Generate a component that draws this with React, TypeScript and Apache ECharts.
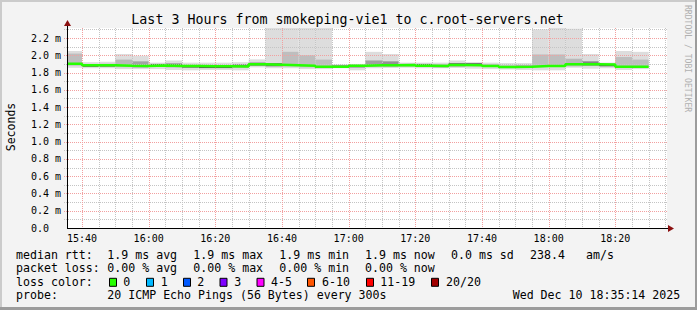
import React, { useEffect, useRef } from 'react';
import * as echarts from 'echarts';

// ---- data ----
const titleText = 'Last 3 Hours from smokeping-vie1 to c.root-servers.net';
const axStart = '15:35:30';
const axEnd = '18:35:30';
const timeLabels = ['15:40', '16:00', '16:20', '16:40', '17:00', '17:20', '17:40', '18:00', '18:20'];
const valueLabels = [0, 0.2, 0.4, 0.6, 0.8, 1.0, 1.2, 1.4, 1.6, 1.8, 2.0, 2.2];
const stepEnds = ['15:40', '15:45', '15:50', '15:55', '16:00', '16:05', '16:10', '16:15', '16:20', '16:25', '16:30', '16:35',
  '16:40', '16:45', '16:50', '16:55', '17:00', '17:05', '17:10', '17:15', '17:20', '17:25', '17:30', '17:35',
  '17:40', '17:45', '17:50', '17:55', '18:00', '18:05', '18:10', '18:15', '18:20', '18:25', '18:30'];
const medianRtt = [1.902, 1.884, 1.886, 1.878, 1.876, 1.882, 1.876, 1.876, 1.872, 1.872,
  1.87, 1.895, 1.89, 1.884, 1.878, 1.868, 1.868, 1.878, 1.884, 1.884,
  1.888, 1.878, 1.875, 1.888, 1.886, 1.875, 1.865, 1.868, 1.875, 1.875,
  1.895, 1.895, 1.893, 1.866, 1.866];
const smokeMax = [2.05, 1.92, 1.925, 2.015, 1.995, 1.915, 1.94, 1.915, 1.915, 1.915,
  1.92, 1.953, 2.52, 2.48, 2.55, 2.44, 1.895, 1.9, 2.04, 2.015,
  1.915, 1.915, 1.915, 1.94, 1.92, 1.915, 1.91, 1.91, 2.3, 2.46,
  2.31, 2.015, 1.915, 2.05, 2.04];
const smokeMin = [1.855, 1.85, 1.85, 1.84, 1.84, 1.84, 1.83, 1.826, 1.83, 1.83,
  1.826, 1.86, 1.85, 1.85, 1.84, 1.84, 1.85, 1.826, 1.85, 1.853,
  1.856, 1.85, 1.85, 1.853, 1.845, 1.84, 1.835, 1.83, 1.826, 1.826,
  1.856, 1.845, 1.85, 1.83, 1.84];
const innerLo = [1.88, 1.866, 1.868, 1.862, 1.858, 1.868, 1.862, 1.856, 1.852, 1.852,
  1.86, 1.88, 1.872, 1.87, 1.86, 1.856, 1.86, 1.86, 1.87, 1.87,
  1.874, 1.868, 1.862, 1.872, 1.875, 1.866, 1.856, 1.856, 1.866, 1.866,
  1.872, 1.88, 1.872, 1.852, 1.858];
const innerHi = [2.02, 1.895, 1.9, 1.95, 1.93, 1.9, 1.905, 1.885, 1.868, 1.868,
  1.895, 1.915, 1.91, 2.04, 2.0, 1.95, 1.882, 1.88, 1.94, 1.93,
  1.9, 1.9, 1.89, 1.91, 1.91, 1.89, 1.878, 1.88, 2.01, 2.01,
  1.96, 1.93, 1.9, 1.98, 1.95];
const rttStats = ['1.9 ms avg', '1.9 ms max', '1.9 ms min', '1.9 ms now', '0.0 ms sd', '238.4', 'am/s'];
const lossStats = ['0.00 % avg', '0.00 % max', '0.00 % min', '0.00 % now'];
const lossLabels = ['0', '1', '2', '3', '4-5', '6-10', '11-19', '20/20'];
const lossColors = ['#26ff00', '#00b8ff', '#0059ff', '#7e00ff', '#ff00ff', '#ff5500', '#ff0000', '#a10000'];
const probeText = '20 ICMP Echo Pings (56 Bytes) every 300s';
const dateText = 'Wed Dec 10 18:35:14 2025';
const yMaxValue = 2.316;

// ---- layout ----
const G_LEFT = 67, G_TOP = 28, G_W = 600, G_H = 200;
const MONO = '"DejaVu Sans Mono", "Liberation Mono", monospace';
const rttX = [107.3, 193.3, 279.3, 365, 451, 530, 586];
const lossX = [107.3, 193.3, 279.3, 365];
const swatchX = [109, 146, 183, 219.5, 256.5, 307, 366, 431];
const swatchLabelX = [123.3, 160.7, 197.3, 234.3, 271, 322, 380.3, 446];
const rowY = [254.7, 268, 282.3, 295.3];

const toMin = (s: string) => {
  const p = s.split(':').map(Number);
  return p[0] * 60 + p[1] + (p[2] || 0) / 60;
};
const X_MIN = toMin(axStart);
const X_MAX = toMin(axEnd);

function innerColor(w: number) {
  const g = Math.round(Math.min(190, 62 + w * 1400));
  return `rgb(${g},${g},${g})`;
}

export default function App() {
  const ref = useRef<HTMLDivElement>(null);
  useEffect(() => {
    document.body.style.margin = '0';
    if (!ref.current) return;
    const chart = echarts.init(ref.current, null, { renderer: 'svg' });

    const smokeData = stepEnds.map((t, i) => [toMin(t), smokeMin[i], smokeMax[i], innerLo[i], innerHi[i]]);
    const medianData: number[][] = [[X_MIN, medianRtt[0]]];
    stepEnds.forEach((t, i) => medianData.push([toMin(t), medianRtt[i]]));

    const graphic: any[] = [];
    // borders
    graphic.push({ type: 'rect', shape: { x: 0, y: 0, width: 697, height: 2 }, style: { fill: '#cbcbcb' }, silent: true });
    graphic.push({ type: 'rect', shape: { x: 0, y: 0, width: 2, height: 310 }, style: { fill: '#cbcbcb' }, silent: true });
    graphic.push({ type: 'rect', shape: { x: 0, y: 307, width: 697, height: 3 }, style: { fill: '#9c9c9c' }, silent: true });
    graphic.push({ type: 'rect', shape: { x: 695, y: 0, width: 2, height: 310 }, style: { fill: '#9c9c9c' }, silent: true });
    // title
    graphic.push({ type: 'text', x: 347.5, y: 19, style: { text: titleText, font: `13.3px ${MONO}`, fill: '#000', align: 'center', verticalAlign: 'middle' } });
    // watermark
    graphic.push({ type: 'text', x: 687.5, y: 5, rotation: -Math.PI / 2, style: { text: 'RRDTOOL / TOBI OETIKER', font: `8.1px ${MONO}`, fill: '#b0b0b0', align: 'left', verticalAlign: 'middle' } });
    // y name
    graphic.push({ type: 'text', x: 10.5, y: 127, rotation: Math.PI / 2, style: { text: 'Seconds', font: `11.5px ${MONO}`, fill: '#000', align: 'center', verticalAlign: 'middle' } });
    // axes lines + arrows
    graphic.push({ type: 'line', z: 50, shape: { x1: G_LEFT + 0.5, y1: G_TOP + G_H + 0.5, x2: G_LEFT + 0.5, y2: G_TOP - 4 }, style: { stroke: '#000', lineWidth: 1 } });
    graphic.push({ type: 'line', z: 50, shape: { x1: G_LEFT, y1: G_TOP + G_H + 0.5, x2: G_LEFT + G_W + 2, y2: G_TOP + G_H + 0.5 }, style: { stroke: '#000', lineWidth: 1 } });
    graphic.push({ type: 'polygon', z: 51, shape: { points: [[G_LEFT - 3, G_TOP - 2], [G_LEFT + 4, G_TOP - 2], [G_LEFT + 0.5, G_TOP - 8]] }, style: { fill: '#8b1010' } });
    graphic.push({ type: 'polygon', z: 51, shape: { points: [[G_LEFT + G_W + 1, G_TOP + G_H - 3], [G_LEFT + G_W + 1, G_TOP + G_H + 4], [G_LEFT + G_W + 7, G_TOP + G_H + 0.5]] }, style: { fill: '#8b1010' } });
    // legend rows
    const txt = (x: number, y: number, t: string) => ({ type: 'text', x, y, style: { text: t, font: `11.6px ${MONO}`, fill: '#000', align: 'left', verticalAlign: 'middle' } });
    graphic.push(txt(16, rowY[0], 'median rtt:'));
    rttStats.forEach((s, i) => graphic.push(txt(rttX[i], rowY[0], s)));
    graphic.push(txt(16, rowY[1], 'packet loss:'));
    lossStats.forEach((s, i) => graphic.push(txt(lossX[i], rowY[1], s)));
    graphic.push(txt(16, rowY[2], 'loss color:'));
    lossLabels.forEach((s, i) => {
      graphic.push({ type: 'rect', shape: { x: swatchX[i] + 0.5, y: rowY[2] - 4, width: 7, height: 8 }, style: { fill: lossColors[i], stroke: '#000', lineWidth: 1 } });
      graphic.push(txt(swatchLabelX[i], rowY[2], s));
    });
    graphic.push(txt(16, rowY[3], 'probe:'));
    graphic.push(txt(107.3, rowY[3], probeText));
    graphic.push(txt(512.7, rowY[3], dateText));

    const option: any = {
      animation: false,
      backgroundColor: '#f3f3f3',
      grid: { left: G_LEFT, top: G_TOP, width: G_W, height: G_H, show: true, backgroundColor: '#ffffff', borderWidth: 0 },
      xAxis: {
        type: 'value', min: X_MIN, max: X_MAX,
        axisLine: { show: false }, axisTick: { show: false }, splitLine: { show: false },
        axisLabel: {
          customValues: timeLabels.map(toMin),
          margin: 5, fontFamily: MONO, fontSize: 10, color: '#000',
          formatter: (v: number) => {
            const h = Math.floor(v / 60 + 1e-6), m = Math.round(v - h * 60);
            return `${h}:${String(m).padStart(2, '0')}`;
          },
        },
      },
      yAxis: {
        type: 'value', min: 0, max: yMaxValue,
        axisLine: { show: false }, axisTick: { show: false }, splitLine: { show: false },
        axisLabel: {
          customValues: valueLabels,
          align: 'left', margin: G_LEFT - 31, fontFamily: MONO, fontSize: 10, color: '#000',
          formatter: (v: number) => (Math.abs(v) < 1e-9 ? '0.0' : `${v.toFixed(1)} m`),
        },
      },
      series: [
        {
          type: 'custom', z: 1, silent: true,
          data: smokeData,
          encode: { x: 0, y: [1, 2] },
          renderItem: (params: any, api: any) => {
            const cs = params.coordSys;
            const top = cs.y, bottom = cs.y + cs.height;
            const cl = (y: number) => Math.max(top, Math.min(bottom, y));
            const end = api.value(0);
            const start = Math.max(end - 5, X_MIN);
            const x0 = api.coord([start, 0])[0];
            const x1 = api.coord([end, 0])[0];
            const yMin = cl(api.coord([end, api.value(1)])[1]);
            const yMax = cl(api.coord([end, api.value(2)])[1]);
            const yLo = cl(api.coord([end, api.value(3)])[1]);
            const yHi = cl(api.coord([end, api.value(4)])[1]);
            return {
              type: 'group',
              children: [
                { type: 'rect', shape: { x: x0, y: yMax, width: x1 - x0, height: yMin - yMax }, style: { fill: '#dddddd' } },
                { type: 'rect', shape: { x: x0, y: yHi, width: x1 - x0, height: yLo - yHi }, style: { fill: innerColor(api.value(4) - api.value(3)) } },
              ],
            };
          },
        },
        {
          type: 'custom', z: 2, silent: true,
          data: [[X_MIN, 0]],
          encode: { x: 0, y: 1 },
          renderItem: (params: any, api: any) => {
            const cs = params.coordSys;
            const children: any[] = [];
            const major = '#f2a0a0', minor = '#c4c4c4';
            for (let k = 1; k * 0.1 <= yMaxValue; k++) {
              const y = Math.round(api.coord([X_MIN, k * 0.1])[1]) + 0.5;
              children.push({ type: 'line', shape: { x1: cs.x - 3, y1: y, x2: cs.x + cs.width + 1, y2: y }, style: { stroke: k % 2 === 0 ? major : minor, lineWidth: 1, lineDash: [1, 1] } });
            }
            const first = toMin(timeLabels[0]);
            for (let t = first; t < X_MAX; t += 5) {
              const x = Math.round(api.coord([t, 0])[0]) + 0.5;
              const isMajor = Math.round(t - first) % 20 === 0;
              children.push({ type: 'line', shape: { x1: x, y1: cs.y, x2: x, y2: cs.y + cs.height + 2 }, style: { stroke: isMajor ? major : minor, lineWidth: 1, lineDash: [1, 1] } });
            }
            return { type: 'group', children };
          },
        },
        {
          type: 'line', z: 3, silent: true,
          data: medianData, step: 'start', symbol: 'none',
          lineStyle: { color: lossColors[0], width: 2.5 },
        },
      ],
      graphic,
    };
    chart.setOption(option);
    return () => chart.dispose();
  }, []);
  return <div ref={ref} style={{ width: 697, height: 310 }} />;
}
